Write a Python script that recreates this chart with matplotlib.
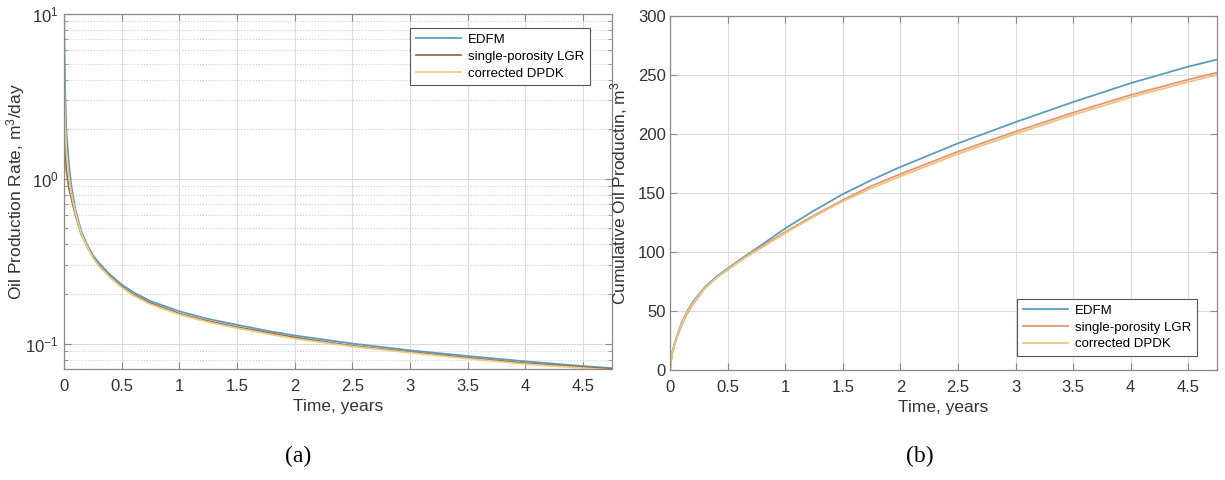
import matplotlib
matplotlib.use("Agg")
import matplotlib.pyplot as plt
from matplotlib.ticker import LogLocator, MultipleLocator, NullFormatter

plt.rcParams['font.family'] = ['Liberation Sans', 'DejaVu Sans']
plt.rcParams['mathtext.default'] = 'regular'

# Oil production rate, m3/day
t_rate = [0, 0.005, 0.01, 0.02, 0.04, 0.06, 0.08, 0.1, 0.15, 0.2, 0.25, 0.3, 0.4,
          0.5, 0.6, 0.75, 1.0, 1.25, 1.5, 1.75, 2.0, 2.5, 3.0, 3.5, 4.0, 4.5, 4.75]
rate_edfm = [12, 6.0, 3.5, 2.0, 1.3, 0.95, 0.78, 0.65, 0.48, 0.40, 0.345, 0.31, 0.262,
             0.228, 0.205, 0.181, 0.157, 0.141, 0.130, 0.120, 0.112, 0.100, 0.091,
             0.084, 0.078, 0.073, 0.071]
rate_lgr = [2.2, 1.8, 1.5, 1.15, 0.90, 0.78, 0.68, 0.60, 0.46, 0.39, 0.335, 0.30, 0.255,
            0.222, 0.199, 0.176, 0.152, 0.137, 0.126, 0.117, 0.109, 0.097, 0.089,
            0.082, 0.076, 0.072, 0.070]
rate_dpdk = [4.4, 3.0, 2.2, 1.5, 1.05, 0.85, 0.72, 0.62, 0.465, 0.39, 0.333, 0.297, 0.252,
             0.219, 0.196, 0.173, 0.150, 0.135, 0.124, 0.115, 0.107, 0.096, 0.088,
             0.081, 0.075, 0.071, 0.069]

# Cumulative oil production, m3
t_cum = [0, 0.01, 0.02, 0.05, 0.1, 0.15, 0.2, 0.3, 0.4, 0.5, 0.6, 0.75, 1.0, 1.25,
         1.5, 1.75, 2.0, 2.5, 3.0, 3.5, 4.0, 4.5, 4.75]
cum_edfm = [0, 10, 16, 26, 40, 50, 58, 70, 79, 86, 93, 103, 120, 135, 149, 161, 172,
            192, 210, 227, 243, 257, 263]
cum_lgr = [0, 8, 14, 25, 38, 48, 56, 69, 78, 85, 92, 102, 117, 131, 144, 156, 166,
           185, 202, 218, 233, 246, 252]
cum_dpdk = [0, 9, 15, 25, 39, 49, 57, 69, 78, 85, 92, 101, 116, 130, 143, 154, 164,
            183, 200, 216, 231, 244, 250]

labels = ["EDFM", "single-porosity LGR", "corrected DPDK"]
x_ticks = [0, 0.5, 1, 1.5, 2, 2.5, 3, 3.5, 4, 4.5]

fig = plt.figure(figsize=(12.25, 4.8), dpi=100)
ax1 = fig.add_axes([0.0522, 0.231, 0.4474, 0.740])
ax2 = fig.add_axes([0.547, 0.229, 0.4465, 0.738])


def style_axes(ax):
    for sp in ax.spines.values():
        sp.set_color("#8a8a8a")
        sp.set_linewidth(0.9)
    ax.tick_params(which="both", direction="in", top=True, right=True,
                   colors="#8a8a8a", labelcolor="#333333", labelsize=12, pad=7)
    ax.tick_params(which="major", length=5)
    ax.tick_params(which="minor", length=3)
    ax.set_xlim(0, 4.75)
    ax.set_xticks(x_ticks)
    ax.set_xticklabels([f"{v:g}" for v in x_ticks])
    ax.set_xlabel("Time, years", fontsize=12.5, color="#333333", labelpad=4)
    ax.grid(True, which="major", color="#dcdcdc", linewidth=0.8)


def style_legend(leg):
    leg.get_frame().set_edgecolor("#555555")
    leg.get_frame().set_linewidth(0.8)
    leg.get_frame().set_alpha(1)


# (a) production rate
ax1.plot(t_rate, rate_edfm, color="#5e9cbf", lw=1.3, label=labels[0])
ax1.plot(t_rate, rate_lgr, color="#a06a4c", lw=1.3, label=labels[1])
ax1.plot(t_rate, rate_dpdk, color="#e9cf86", lw=1.3, label=labels[2])
ax1.set_yscale("log")
ax1.set_ylim(0.07, 10)
ax1.yaxis.set_major_locator(LogLocator(base=10, numticks=5))
ax1.yaxis.set_minor_locator(LogLocator(base=10, subs=range(2, 10), numticks=20))
ax1.yaxis.set_minor_formatter(NullFormatter())
style_axes(ax1)
ax1.tick_params(axis="y", pad=4)
ax1.grid(True, which="minor", axis="y", color="#cfcfcf", linestyle=":", linewidth=0.8)
ax1.set_ylabel("Oil Production Rate, m$^3$/day", fontsize=12.5, color="#333333")
ax1.yaxis.set_label_coords(-0.068, 0.5)
leg1 = ax1.legend(loc="upper right", fontsize=9.5, frameon=True, fancybox=False,
                  handlelength=3.4, handletextpad=0.5, borderpad=0.45, labelspacing=0.35,
                  bbox_to_anchor=(0.972, 0.98))
style_legend(leg1)

# (b) cumulative production
ax2.plot(t_cum, cum_edfm, color="#5e9cbf", lw=1.3, label=labels[0])
ax2.plot(t_cum, cum_lgr, color="#e5957a", lw=1.3, label=labels[1])
ax2.plot(t_cum, cum_dpdk, color="#ecc57a", lw=1.3, label=labels[2])
ax2.set_ylim(0, 300)
ax2.yaxis.set_major_locator(MultipleLocator(50))
style_axes(ax2)
ax2.tick_params(axis="y", pad=3)
ax2.set_ylabel("Cumulative Oil Productin, m$^3$", fontsize=12.5, color="#333333")
ax2.yaxis.set_label_coords(-0.074, 0.5)
leg2 = ax2.legend(loc="lower right", fontsize=9.5, frameon=True, fancybox=False,
                  handlelength=3.4, handletextpad=0.5, borderpad=0.45, labelspacing=0.35,
                  bbox_to_anchor=(0.975, 0.02))
style_legend(leg2)

fig.text(0.243, 0.038, "(a)", fontsize=17, family="Liberation Serif", ha="center")
fig.text(0.751, 0.038, "(b)", fontsize=17, family="Liberation Serif", ha="center")

fig.savefig("out.png", dpi=100)
